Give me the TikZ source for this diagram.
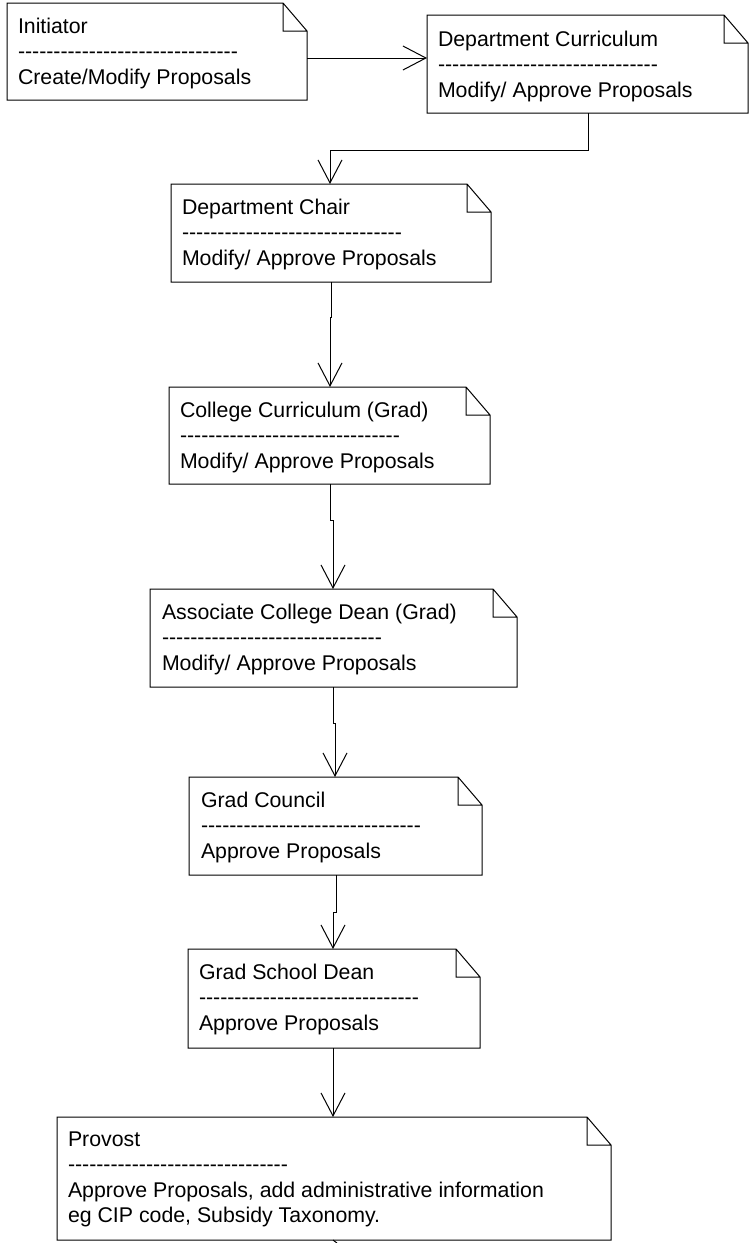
\documentclass[tikz,border=0pt]{standalone}
\usepackage{fontspec}
\setmainfont{Liberation Sans}
\usetikzlibrary{arrows.meta,calc}
\newcommand\hyph[1]{\foreach \i in {1,...,#1}{-\kern0pt}}
\newcommand\noteoutline[1]{%
  \draw[outline] (#1.north west) -- ($(#1.north east)+(-24,0)$) -- ($(#1.north east)+(0,28)$)
    -- (#1.south east) -- (#1.south west) -- cycle
    ($(#1.north east)+(-24,0)$) |- ($(#1.north east)+(0,28)$);}
\tikzset{
  notebox/.style={inner sep=0pt, outer sep=0pt, anchor=north west, rectangle},
  notetext/.style={anchor=north west, inner sep=0pt, outer sep=0pt, align=left,
    font=\fontsize{21.3}{25.6}\selectfont},
  outline/.style={line width=1pt, line join=miter},
  arr/.style={line width=1pt, -{Straight Barb[length=23pt,width=24pt]}},
}
\begin{document}
\begin{tikzpicture}[x=1pt,y=-1pt]
\useasboundingbox (0,0) rectangle (752,1243);

\node[notebox, minimum width=300, minimum height=97] (init) at (7,3) {};
\node[notebox, minimum width=321, minimum height=98] (dcurr) at (427,15) {};
\node[notebox, minimum width=320, minimum height=98] (dchair) at (171,184) {};
\node[notebox, minimum width=321, minimum height=97] (ccurr) at (169,387) {};
\node[notebox, minimum width=367, minimum height=98] (adean) at (150,589) {};
\node[notebox, minimum width=293, minimum height=98] (gcouncil) at (189,777) {};
\node[notebox, minimum width=292, minimum height=99] (gsdean) at (188,949) {};
\node[notebox, minimum width=554, minimum height=123] (provost) at (57,1117) {};

\foreach \n in {init,dcurr,dchair,ccurr,adean,gcouncil,gsdean,provost}{\noteoutline{\n}}

\node[notetext] (init-t) at ($(init.north west)+(11,14)$)
  {\rule{0pt}{16pt}Initiator\\\hyph{31}\\Create/Modify Proposals};
\node[notetext] (dcurr-t) at ($(dcurr.north west)+(11,15)$)
  {\rule{0pt}{16pt}Department Curriculum\\\hyph{31}\\Modify/ Approve Proposals};
\node[notetext] (dchair-t) at ($(dchair.north west)+(11,14)$)
  {\rule{0pt}{16pt}Department Chair\\\hyph{31}\\Modify/ Approve Proposals};
\node[notetext] (ccurr-t) at ($(ccurr.north west)+(11,14)$)
  {\rule{0pt}{16pt}College Curriculum (Grad)\\\hyph{31}\\Modify/ Approve Proposals};
\node[notetext] (adean-t) at ($(adean.north west)+(12,14)$)
  {\rule{0pt}{16pt}Associate College Dean (Grad)\\\hyph{31}\\Modify/ Approve Proposals};
\node[notetext] (gcouncil-t) at ($(gcouncil.north west)+(12,14)$)
  {\rule{0pt}{16pt}Grad Council\\\hyph{31}\\Approve Proposals};
\node[notetext] (gsdean-t) at ($(gsdean.north west)+(11,14)$)
  {\rule{0pt}{16pt}Grad School Dean\\\hyph{31}\\Approve Proposals};
\node[notetext] (provost-t) at ($(provost.north west)+(11,13)$)
  {\rule{0pt}{16pt}Provost\\\hyph{31}\\Approve Proposals, add administrative information\\eg CIP code, Subsidy Taxonomy.};

\draw[arr] ($(init.north east)+(0,55)$) -- ($(dcurr.north west)+(0,43)$);
\draw[arr] ($(dcurr.south west)+(161,0)$) |- ($(dchair.north west)+(159,-34)$) -- ($(dchair.north west)+(159,0)$);
\draw[arr] ($(dchair.south west)+(160,0)$) -- ++(0,35) -- ++(-1,0) -- ($(ccurr.north west)+(161,0)$);
\draw[arr] ($(ccurr.south west)+(161,0)$) -- ++(0,36) -- ++(3,0) -- ($(adean.north west)+(183,0)$);
\draw[arr] ($(adean.south west)+(183,0)$) -- ++(0,36) -- ++(2,0) -- ($(gcouncil.north west)+(146,0)$);
\draw[arr] ($(gcouncil.south west)+(147,0)$) -- ++(0,37) -- ++(-3,0) -- ($(gsdean.north west)+(145,0)$);
\draw[arr] ($(gsdean.south west)+(145,0)$) -- ($(provost.north west)+(276,0)$);
\coordinate (stub) at (337,1243);
\draw[line width=1pt] ($(provost.south west)+(276,0)$) -- (stub);
\end{tikzpicture}
\end{document}
